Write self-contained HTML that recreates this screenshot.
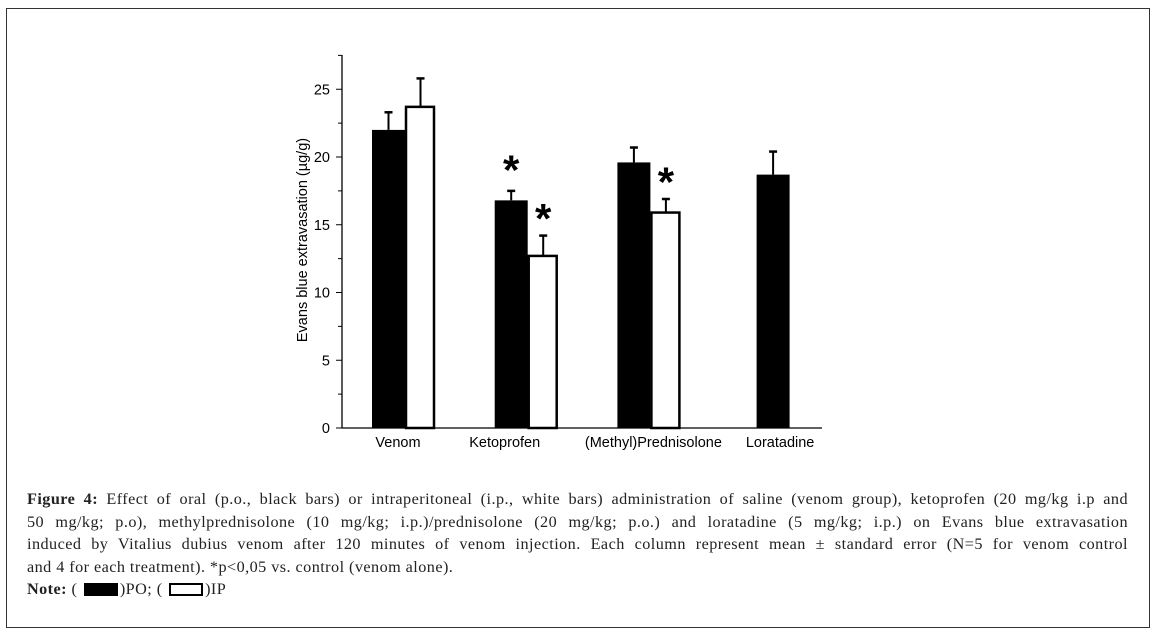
<!DOCTYPE html>
<html><head><meta charset="utf-8"><style>
body{margin:0;background:#fff;width:1158px;height:637px;overflow:hidden;position:relative;font-family:"Liberation Sans",sans-serif}
#frame{position:absolute;left:6px;top:8px;width:1144px;height:620px;border:1px solid #333;box-sizing:border-box}
#cap{position:absolute;left:27px;top:488px;width:1101px;font-family:"Liberation Serif",serif;font-size:16.2px;letter-spacing:0.45px;line-height:22.6px;color:#222}
#cap .j{display:block;text-align:justify;text-align-last:justify;white-space:nowrap}
#cap .l{display:block;white-space:nowrap}
.sw{display:inline-block;width:34px;height:13px;vertical-align:-2px;box-sizing:border-box;margin:0 2px}
</style></head><body>
<div id="frame"></div>
<svg id="chart" width="1158" height="480" style="position:absolute;left:0;top:0"></svg>
<div id="cap">
<span class="j" style="white-space:normal"><b>Figure 4:</b> Effect of oral (p.o., black bars) or intraperitoneal (i.p., white bars) administration of saline (venom group), ketoprofen (20 mg/kg i.p and</span>
<span class="j" style="white-space:normal">50 mg/kg; p.o), methylprednisolone (10 mg/kg; i.p.)/prednisolone (20 mg/kg; p.o.) and loratadine (5 mg/kg; i.p.) on Evans blue extravasation</span>
<span class="j" style="white-space:normal">induced by Vitalius dubius venom after 120 minutes of venom injection. Each column represent mean ± standard error (N=5 for venom control</span>
<span class="l">and 4 for each treatment). *p&lt;0,05 vs. control (venom alone).</span>
<span class="l"><b>Note:</b> ( <span class="sw" style="background:#000"></span>)PO; ( <span class="sw" style="border:2px solid #000"></span>)IP</span></div>
<script>
const categories=["Venom","Ketoprofen","(Methyl)Prednisolone","Loratadine"];
const poValues=[22.0,16.8,19.6,18.7];
const poErrors=[1.3,0.7,1.1,1.7];
const ipValues=[23.7,12.7,15.9,null];
const ipErrors=[2.1,1.5,1.0,null];
const poSig=[false,true,false,false];
const ipSig=[false,true,true,false];
const yTicks=[0,5,10,15,20,25];
const NS="http://www.w3.org/2000/svg";
const svg=document.getElementById('chart');
const x0=342,y0=428,yUnit=13.55,xEnd=822;
const y=v=>y0-v*yUnit;
const gx=i=>405+i*122.7;
const bw=33;
const labelShift=[-7,-23,3,7];
function el(t,a,p){const e=document.createElementNS(NS,t);for(const k in a)e.setAttribute(k,a[k]);(p||svg).appendChild(e);return e;}
let ax=el('line',{x1:x0,y1:y(0),x2:x0,y2:55,stroke:'#000','stroke-width':1.3});

let xa=el('line',{x1:x0,y1:y0,x2:xEnd,y2:y0,stroke:'#000','stroke-width':1.3});

for(let v=0;v<=27.5;v+=2.5){const major=v%5===0;el('line',{x1:x0-(major?6:4),y1:y(v),x2:x0,y2:y(v),stroke:'#000','stroke-width':1});}
yTicks.forEach(v=>{const t=el('text',{x:x0-12,y:y(v)+5,'text-anchor':'end','font-size':14.5});t.textContent=v;
});
const yl=el('text',{x:0,y:0,'text-anchor':'middle','font-size':14.5,transform:'translate(307,240) rotate(-90)'});
yl.textContent='Evans blue extravasation (\u00b5g/g)';

categories.forEach((c,i)=>{const t=el('text',{x:gx(i)+labelShift[i],y:447,'text-anchor':'middle','font-size':14.5});t.textContent=c;
});
function star(cx,v){const t=el('text',{x:cx,y:y(v)+30,'text-anchor':'middle','font-size':42,'font-weight':'bold'});t.textContent='*';
}
categories.forEach((c,i)=>{
  const cx=gx(i);
  if(poValues[i]!=null){
    const xl=ipValues[i]==null?cx-bw/2:cx-bw;
    const r=el('rect',{x:xl,y:y(poValues[i]),width:bw,height:y0-y(poValues[i]),fill:'#000'});
    
    const m=xl+bw/2,te=y(poValues[i]+poErrors[i]);
    el('line',{x1:m,y1:y(poValues[i]),x2:m,y2:te,stroke:'#000','stroke-width':2});
    el('line',{x1:m-4,y1:te,x2:m+4,y2:te,stroke:'#000','stroke-width':2.5});
    if(poSig[i])star(m,poValues[i]+poErrors[i]+2.7);
  }
  if(ipValues[i]!=null){
    const r=el('rect',{x:cx+1,y:y(ipValues[i]),width:bw-5,height:y0-y(ipValues[i]),fill:'#fff',stroke:'#000','stroke-width':2.5});
    
    const m=cx+bw/2-1,te=y(ipValues[i]+ipErrors[i]);
    el('line',{x1:m,y1:y(ipValues[i]),x2:m,y2:te,stroke:'#000','stroke-width':2});
    el('line',{x1:m-4,y1:te,x2:m+4,y2:te,stroke:'#000','stroke-width':2.5});
    if(ipSig[i])star(m,ipValues[i]+ipErrors[i]+2.4);
  }
});
</script>
</body></html>
